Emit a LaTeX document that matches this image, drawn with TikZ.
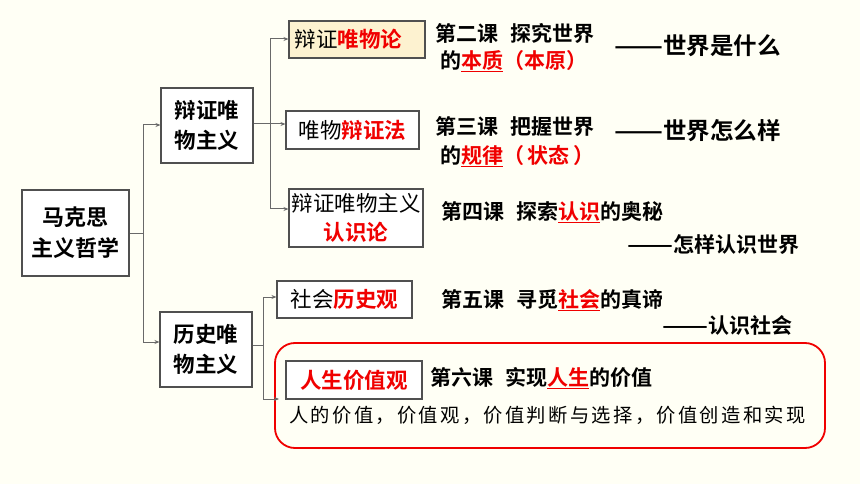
\documentclass[tikz,border=0pt]{standalone}
\usepackage{fontspec}
\setmainfont{Noto Sans CJK SC}[BoldFont={Noto Sans CJK SC Bold}]
\newfontfamily\songti{Noto Sans CJK SC}[LetterSpace=12]
\usetikzlibrary{arrows.meta}
\definecolor{bgc}{RGB}{255,255,245}
\definecolor{linec}{RGB}{105,105,105}
\definecolor{boxc}{RGB}{80,80,80}
\definecolor{beige}{RGB}{253,242,208}
\definecolor{myred}{RGB}{240,0,0}
\newcommand\rd[1]{\textcolor{myred}{#1}}
\newcommand\rb[1]{\textcolor{myred}{\bfseries #1}}
\newcommand\ru[1]{\textcolor{myred}{\setbox0\hbox{#1}\rlap{\rule[-3.8pt]{\wd0}{1.3pt}}\box0}}
\newcommand\dash[1]{\resizebox{#1}{\height}{——}}
\tikzset{
  box/.style={draw=boxc, line width=1.1pt, fill=white, inner sep=0pt, align=center},
  conn/.style={draw=linec, line width=1pt},
  arr/.style={conn, -{Stealth[length=5pt,width=4pt]}},
  txt/.style={inner sep=0pt, anchor=west},
  fa/.style={font=\fontsize{21}{29}\selectfont\bfseries},
  fb/.style={font=\fontsize{23.5}{30}\selectfont\bfseries},
}
\begin{document}
\begin{tikzpicture}[x=1pt,y=-1pt]
\fill[bgc] (0,0) rectangle (860,484);
\useasboundingbox (0,0) rectangle (860,484);

% boxes
\node[box, minimum width=107pt, minimum height=86pt, font=\fontsize{22}{31}\selectfont\bfseries] (mk) at (75.5,233) {马克思\\主义哲学};
\node[box, minimum width=92pt, minimum height=75pt, font=\fontsize{21.5}{30}\selectfont\bfseries] (dz) at (207,125.5) {辩证唯\\物主义};
\node[box, minimum width=92pt, minimum height=75pt, font=\fontsize{21.5}{30}\selectfont\bfseries] (ls) at (206,349.5) {历史唯\\物主义};
\node[box, fill=beige, minimum width=136pt, minimum height=37pt, inner xsep=5.5pt, text width=125pt, align=left, font=\fontsize{21.5}{30}\selectfont] (wl) at (357,39.5) {辩证\rb{唯物论}};
\node[box, minimum width=133pt, minimum height=38pt, font=\fontsize{21.5}{30}\selectfont] (bf) at (352.5,130) {唯物\rb{辩证法}};
\node[box, minimum width=134pt, minimum height=58pt, font=\fontsize{21.5}{29}\selectfont] (rs) at (356,218) {辩证唯物主义\\\rb{认识论}};
\node[box, minimum width=135pt, minimum height=37pt, font=\fontsize{21.5}{30}\selectfont] (sh) at (344.5,299.5) {社会\rb{历史观}};

% red group frame
\draw[myred, line width=1.8pt, rounded corners=20pt] (275,343) rectangle (825,448);
\node[box, minimum width=136pt, minimum height=38pt, font=\fontsize{21.5}{30}\selectfont] (rsv) at (354,380) {\rb{人生价值观}};

% connectors
\coordinate (a0) at (143,233);
\coordinate (a1) at (143,125);
\coordinate (a2) at (143,342);
\coordinate (b0) at (270,124);
\coordinate (b1) at (270,39);
\coordinate (b2) at (270,209);
\coordinate (c0) at (263,345.5);
\coordinate (c1) at (263,297);
\coordinate (c2) at (263,399);
\coordinate (c3) at (279,399);
\draw[conn] (mk.east) -- (a0);
\draw[conn] (a1) -- (a2);
\draw[arr] (a1) -- (a1 -| dz.west);
\draw[arr] (a2) -- (a2 -| ls.west);
\draw[conn] (dz.east |- b0) -- (b0);
\draw[conn] (b1) -- (b2);
\draw[arr] (b1) -- (b1 -| wl.west);
\draw[arr] (b0) -- (b0 -| bf.west);
\draw[arr] (b2) -- (b2 -| rs.west);
\draw[conn] (ls.east |- c0) -- (c0);
\draw[conn] (c1) -- (c2);
\draw[arr] (c1) -- (c1 -| sh.west);
\draw[arr] (c2) -- (c3);

% lesson texts
\node[txt, fa] (t2a) at (435,33) {第二课\hspace{12pt}探究世界};
\node[txt, fa] (t2b) at (440,61) {的\ru{本质}\rd{（本原）}};
\node[txt, fb] (d2) at (614,46) {\dash{49pt}世界是什么};
\node[txt, fa] (t3a) at (435,127) {第三课\hspace{12pt}把握世界};
\node[txt, fa] (t3b) at (440,156) {的\ru{规律}\rd{（\,状态\,）}};
\node[txt, fb] (d3) at (614,131) {\dash{49pt}世界怎么样};
\node[txt, fa] (t4) at (441,212) {第四课\hspace{12pt}探索\ru{认识}的奥秘};
\node[txt, fa] (d4) at (627,245) {\dash{46pt}怎样认识世界};
\node[txt, fa] (t5) at (441,300) {第五课\hspace{12pt}寻觅\ru{社会}的真谛};
\node[txt, fa] (d5) at (662,325) {\dash{46pt}认识社会};
\node[txt, fa] (t6) at (430,378) {第六课\hspace{12pt}实现\ru{人生}的价值};
\node[txt, font=\fontsize{19.3}{24}\songti] (sub) at (289,415) {人的价值，价值观，价值判断与选择，价值创造和实现};
\end{tikzpicture}
\end{document}
